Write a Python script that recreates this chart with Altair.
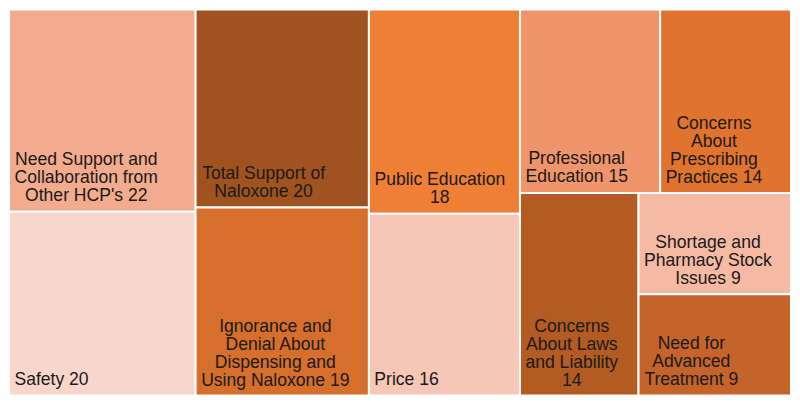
import altair as alt
import pandas as pd

# ---- data ----
names = [
    "Need Support and Collaboration from Other HCP's",
    "Safety",
    "Total Support of Naloxone",
    "Ignorance and Denial About Dispensing and Using Naloxone",
    "Public Education",
    "Price",
    "Professional Education",
    "Concerns About Prescribing Practices",
    "Concerns About Laws and Liability",
    "Shortage and Pharmacy Stock Issues",
    "Need for Advanced Treatment",
]
counts = [22, 20, 20, 19, 18, 16, 15, 14, 14, 9, 9]
colors = [
    "#f2ab8c", "#f8d6cb", "#a0521f", "#d66e2c", "#ee7f35", "#f6c6b6",
    "#f0956b", "#e0742e", "#b35b22", "#f5b9a4", "#c4632a",
]

# ---- layout (squarified treemap, ratio 1) in reference pixel units ----
LW, LH = 800.0, 403.0
FS = 18.0      # label font size in layout units
LINE = 18.4    # label line height in layout units
PAD = 5.5      # label padding inside a cell


def squarify(values, x0, y0, x1, y1, ratio=1.0):
    rects = [None] * len(values)
    value = float(sum(values))
    i0, n = 0, len(values)
    while i0 < n:
        dx, dy = x1 - x0, y1 - y0
        i1 = i0
        s = values[i1]
        i1 += 1
        mn = mx = s
        alpha = max(dy / dx, dx / dy) / (value * ratio)
        beta = s * s * alpha
        minr = max(mx / beta, beta / mn)
        while i1 < n:
            v = values[i1]
            s2 = s + v
            mn2, mx2 = min(mn, v), max(mx, v)
            beta = s2 * s2 * alpha
            nr = max(mx2 / beta, beta / mn2)
            if nr > minr:
                break
            s, mn, mx, minr = s2, mn2, mx2, nr
            i1 += 1
        row = list(range(i0, i1))
        if dx < dy:
            ny = y0 + dy * s / value
            cx = x0
            for i in row:
                w = (x1 - x0) * values[i] / s
                rects[i] = (cx, y0, cx + w, ny)
                cx += w
            y0 = ny
        else:
            nx = x0 + dx * s / value
            cy = y0
            for i in row:
                h = (y1 - y0) * values[i] / s
                rects[i] = (x0, cy, nx, cy + h)
                cy += h
            x0 = nx
        value -= s
        i0 = i1
    return rects


# Arial / Liberation Sans advance widths (per 1000 em)
AW = {" ": 278, "'": 191}
AW.update({d: 556 for d in "0123456789"})
AW.update(dict(zip("ABCDEFGHIJKLMNOPQRSTUVWXYZ",
                   [667, 667, 722, 722, 667, 611, 778, 722, 278, 500, 667, 556, 833,
                    722, 778, 667, 778, 722, 667, 611, 722, 667, 944, 667, 667, 611])))
AW.update(dict(zip("abcdefghijklmnopqrstuvwxyz",
                   [556, 556, 500, 556, 556, 278, 556, 556, 222, 222, 500, 222, 833,
                    556, 556, 556, 556, 333, 500, 278, 556, 500, 722, 500, 500, 500])))


def tw(s):
    return sum(AW.get(c, 556) for c in s) / 1000.0 * FS


def wrap(text, maxw):
    words = text.split(" ")
    lines, cur = [], words[0]
    for w in words[1:]:
        if tw(cur + " " + w) <= maxw:
            cur = cur + " " + w
        else:
            lines.append(cur)
            cur = w
    lines.append(cur)
    return lines


rects = squarify(counts, 0.0, 0.0, LW, LH)
rows = []
for name, cnt, (x0, y0, x1, y1) in zip(names, counts, rects):
    lines = wrap(f"{name} {cnt}", (x1 - x0) - 2 * PAD)
    bw = max(tw(l) for l in lines)
    rows.append(dict(name=name, count=cnt, x0=x0, y0=y0, x1=x1, y1=y1,
                     label="\n".join(lines), lx=x0 + PAD + bw / 2.0,
                     ly=y1 - (len(lines) - 1) * LINE))
df = pd.DataFrame(rows)

W, H = 784, 387
xs = alt.Scale(domain=[0, LW], range=[0, W], nice=False, zero=False)
ys = alt.Scale(domain=[0, LH], range=[0, H], nice=False, zero=False)
col = alt.Scale(domain=names, range=colors)

base = alt.Chart(df)
cells = base.mark_rect(stroke="white", strokeWidth=2).encode(
    x=alt.X("x0:Q", scale=xs, axis=None),
    x2="x1:Q",
    y=alt.Y("y0:Q", scale=ys, axis=None),
    y2="y1:Q",
    color=alt.Color("name:N", scale=col, legend=None),
)
labels = base.mark_text(
    font="Liberation Sans", fontSize=17.6, lineHeight=18, lineBreak="\n",
    align="center", baseline="bottom", dy=-7, color="#1a1a1a",
).encode(
    x=alt.X("lx:Q", scale=xs, axis=None),
    y=alt.Y("ly:Q", scale=ys, axis=None),
    text="label:N",
)

chart = (cells + labels).properties(width=W, height=H, padding=0).configure_view(
    stroke=None
)
chart.save("out.html", embed_options={"renderer": "svg", "actions": False})
